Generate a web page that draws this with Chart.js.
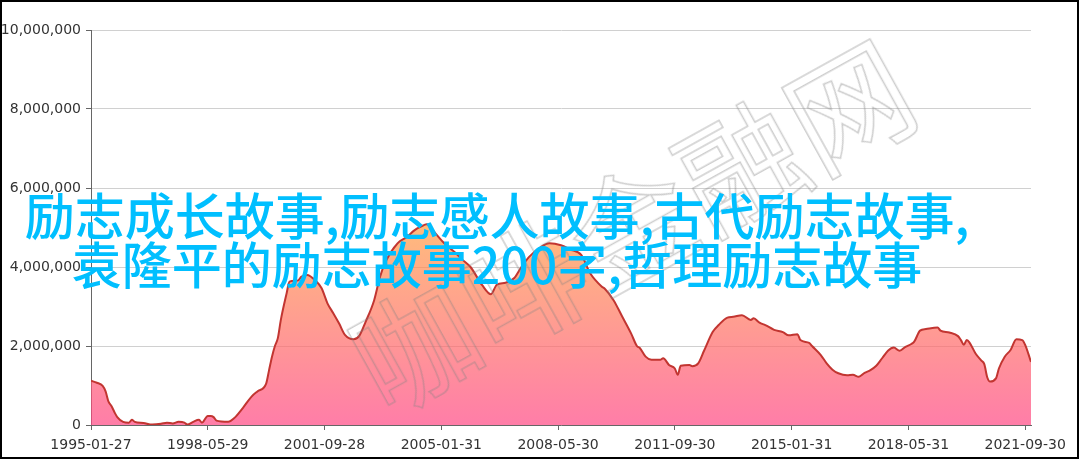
<!DOCTYPE html>
<html>
<head>
<meta charset="utf-8">
<script src="https://cdn.jsdelivr.net/npm/chart.js@4.4.1/dist/chart.umd.min.js"></script>
<style>
  html, body { margin:0; padding:0; background:#fff; }
  #wrap { position:relative; width:1079px; height:459px; overflow:hidden; }
  #c { position:absolute; left:0; top:0; }
  .frame { position:absolute; left:0; top:0; width:1079px; height:459px; box-sizing:border-box; border:2px solid #000; pointer-events:none; }
  .wm { position:absolute; left:630px; top:220px; transform:translate(-50%,-50%) rotate(-29deg);
        font-family:"Noto Sans CJK SC"; font-weight:400; font-size:122px; line-height:1; white-space:nowrap;
        color:transparent; -webkit-text-stroke:1.5px rgba(130,130,130,0.40); letter-spacing:2px; }
  .title { position:absolute; left:497px; transform:translateX(-50%); white-space:nowrap;
           font-family:"Noto Sans CJK SC"; font-weight:500; font-size:50px; line-height:1; color:#00BFFF; }
</style>
</head>
<body>
<div id="wrap">
  <canvas id="c" width="1079" height="459"></canvas>
  <div class="wm">咖啡金融网</div>
  <div class="title" id="t1" style="top:188px">励志成长故事,励志感人故事,古代励志故事,</div>
  <div class="title" id="t2" style="top:237px">袁隆平的励志故事200字,哲理励志故事</div>
  <div class="frame"></div>
</div>
<script>
const xTickLabels = ['1995-01-27','1998-05-29','2001-09-28','2005-01-31','2008-05-30','2011-09-30','2015-01-31','2018-05-31','2021-09-30'];
const yTicks = [0, 2000000, 4000000, 6000000, 8000000, 10000000];
const months = [0,2,4,5,6,7,8,9,11,13,14,15,18,21,24,26,28,30,32,33,35,37,38,40,41,42,43,47,49,52,55,57,60,61,62,63,64,65,67,68,70,71,72,74,77,79,81,83,85,87,90,92,94,97,99,101,105,108,111,113,115,118,121,125,127,130,134,137,139,142,145,147,150,154,157,161,164,168,171,175,176,179,182,185,187,188,190,192,195,196,198,200,201,202,205,206,208,210,213,215,218,220,223,226,227,229,231,234,237,239,242,243,246,247,250,252,254,256,259,261,263,265,267,269,271,273,275,277,279,281,282,284,286,290,291,294,297,298,299,300,301,303,305,306,307,308,310,311,313,315,317,319,320,322];
const values = [1120000,1070000,990000,850000,590000,480000,330000,200000,80000,60000,130000,80000,50000,10000,30000,60000,40000,80000,60000,10000,80000,130000,60000,230000,230000,200000,110000,80000,170000,430000,720000,850000,1050000,1390000,1730000,2000000,2200000,2650000,3330000,3630000,3650000,3660000,3750000,3800000,3650000,3460000,3080000,2830000,2570000,2280000,2170000,2270000,2600000,3160000,3750000,4150000,4600000,4750000,4940000,5020000,5080000,4850000,4600000,4350000,4200000,4000000,3540000,3310000,3550000,3600000,3720000,3950000,4250000,4500000,4600000,4550000,4450000,4300000,3840000,3500000,3450000,3160000,2740000,2320000,2000000,1950000,1730000,1650000,1650000,1690000,1520000,1430000,1270000,1500000,1520000,1490000,1560000,1880000,2360000,2530000,2720000,2740000,2780000,2660000,2700000,2590000,2530000,2410000,2350000,2270000,2300000,2150000,2080000,2000000,1770000,1560000,1400000,1310000,1260000,1270000,1220000,1320000,1390000,1500000,1690000,1880000,1960000,1880000,1980000,2050000,2110000,2390000,2430000,2470000,2390000,2340000,2250000,2150000,2030000,2150000,2080000,1810000,1630000,1540000,1210000,1100000,1180000,1430000,1730000,1900000,2170000,2150000,2030000,1600000];

const points = months.map((m, i) => ({ x: m, y: values[i] }));
const maxVal = Math.max(...values);

function areaGradient(ctx) {
  const chart = ctx.chart;
  const area = chart.chartArea;
  if (!area) return 'rgba(255,120,140,0.7)';
  const top = chart.scales.y.getPixelForValue(maxVal);
  const g = chart.ctx.createLinearGradient(0, top, 0, area.bottom);
  g.addColorStop(0, 'rgba(255,158,68,0.7)');
  g.addColorStop(1, 'rgba(255,70,131,0.7)');
  return g;
}

new Chart(document.getElementById('c'), {
  type: 'line',
  data: {
    datasets: [{
      data: points,
      borderColor: '#c23531',
      borderWidth: 2,
      pointRadius: 0,
      fill: 'origin',
      backgroundColor: areaGradient,
      cubicInterpolationMode: 'monotone'
    }]
  },
  options: {
    responsive: false,
    animation: false,
    events: [],
    layout: { padding: { top: 30, right: 48, bottom: 0, left: 0 } },
    plugins: { legend: { display: false }, tooltip: { enabled: false }, title: { display: false } },
    scales: {
      x: {
        type: 'linear',
        min: 0,
        max: 322,
        afterBuildTicks: (s) => { s.ticks = xTickLabels.map((_, i) => ({ value: i * 40 })); },
        afterFit: (s) => { s.height = 34; s.paddingLeft = 0; s.paddingRight = 0; },
        border: { color: '#666', width: 1 },
        grid: { drawOnChartArea: false, tickLength: 5, tickColor: '#666', color: '#666' },
        ticks: {
          autoSkip: false, maxRotation: 0, padding: 7, color: '#333',
          font: { family: 'DejaVu Sans', size: 14 },
          callback: (v) => xTickLabels[Math.round(v / 40)]
        }
      },
      y: {
        min: 0,
        max: 10000000,
        afterBuildTicks: (s) => { s.ticks = yTicks.map(v => ({ value: v })); },
        afterFit: (s) => { s.width = 91; s.paddingTop = 0; s.paddingBottom = 0; },
        border: { color: '#666', width: 1 },
        grid: { color: '#d0d0d0', tickLength: 5, tickColor: '#666' },
        ticks: {
          padding: 5, color: '#333',
          font: { family: 'DejaVu Sans', size: 14 },
          callback: (v) => Number(v).toLocaleString('en-US')
        }
      }
    }
  }
});
</script>
</body>
</html>
